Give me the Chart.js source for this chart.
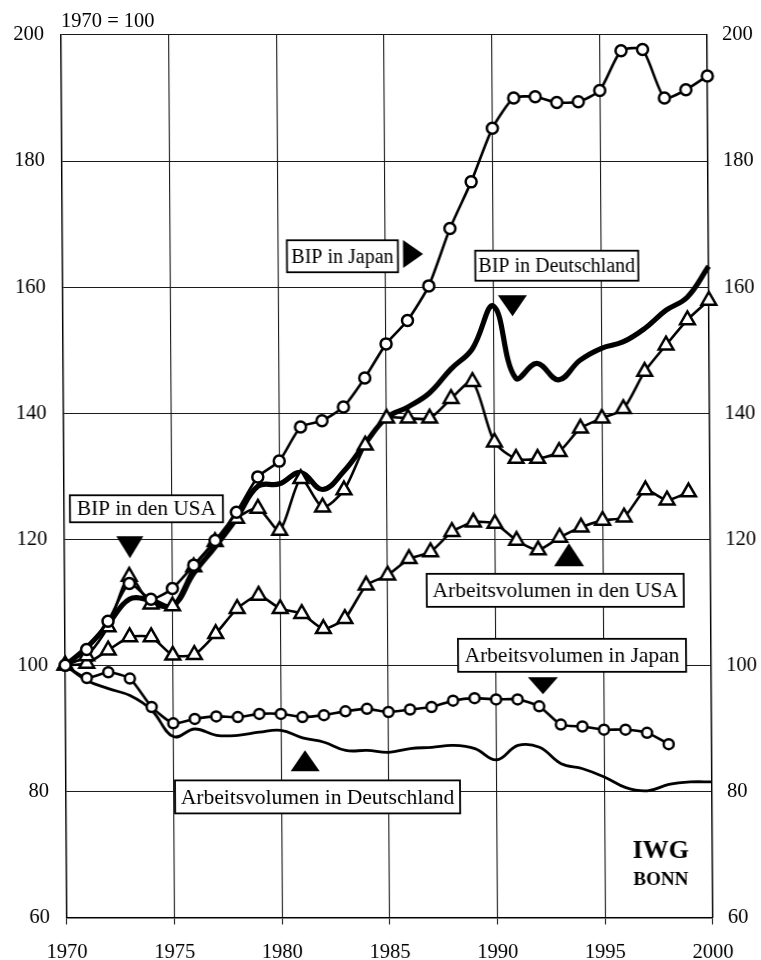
<!DOCTYPE html>
<html><head><meta charset="utf-8">
<script src="https://cdn.jsdelivr.net/npm/chart.js@4.4.0/dist/chart.umd.min.js"></script>
<style>
html,body{margin:0;padding:0;background:#fff;overflow:hidden;}
#wrap{width:761px;height:960px;transform:skewX(0.377deg);transform-origin:50% 50%;}
canvas{display:block;}
</style></head><body>
<div id="wrap"><canvas id="c" width="761" height="960"></canvas></div>
<script>
// ---- data (index 1970 = 100) ----
const years = [1970,1971,1972,1973,1974,1975,1976,1977,1978,1979,1980,1981,1982,1983,1984,1985,1986,1987,1988,1989,1990,1991,1992,1993,1994,1995,1996,1997,1998,1999,2000];
const bipJapan = [100,102.5,107.0,113.0,110.5,112.2,115.9,119.8,124.3,129.9,132.4,137.8,138.8,141.0,145.6,151.0,154.7,160.2,169.3,176.7,185.2,190.0,190.2,189.3,189.4,191.2,197.5,197.7,190.0,191.3,193.5];
const bipDeutschland = [100,102.8,106.5,110.5,110.3,109.4,114.6,118.8,123.3,128.4,128.8,130.6,127.9,130.8,135.2,139.3,141.0,143.2,147.0,150.2,157.0,145.6,147.9,145.3,148.4,150.3,151.3,153.4,156.3,158.4,163.3];
const bipUSA = [100,101.5,106.1,114.1,109.7,109.4,115.6,119.6,123.3,124.9,121.4,129.6,125.1,127.8,134.9,139.2,139.2,139.2,142.3,145.0,135.4,132.8,132.8,133.9,137.6,139.2,140.7,146.6,150.8,154.8,157.9];
const avUSA = [100,100.3,102.4,104.5,104.5,101.6,101.7,105.0,109.0,111.1,109.0,108.2,105.8,107.4,112.7,114.3,116.9,118.0,121.2,122.7,122.5,119.8,118.3,120.3,121.9,123.0,123.5,127.8,126.2,127.5];
const avJapan = [100,98.0,98.9,97.9,93.4,90.8,91.5,91.9,91.8,92.3,92.3,91.8,92.1,92.7,93.1,92.6,93.0,93.4,94.4,94.8,94.6,94.6,93.5,90.6,90.3,89.8,89.8,89.3,87.5];
const avDeutschland = [100,97.6,96.3,95.2,92.9,88.7,89.9,88.9,88.9,89.4,89.7,88.5,87.8,86.5,86.5,86.2,86.8,87.0,87.3,86.8,85.0,87.3,87.0,84.4,83.6,82.3,80.6,80.1,81.1,81.5,81.5];
const xTicks = [1970,1975,1980,1985,1990,1995,2000];
const yTicks = [60,80,100,120,140,160,180,200];
const baseLabel = '1970 = 100';

// ---- annotation layout (data coordinates) ----
const labelBoxes = [
  {text:'BIP in Japan', x:1983.0, y:164.9, w:111, h:32, size:20},
  {text:'BIP in Deutschland', x:1992.95, y:163.4, w:163, h:30, size:20},
  {text:'BIP in den USA', x:1973.82, y:124.84, w:153, h:27, size:21.3},
  {text:'Arbeitsvolumen in den USA', x:1992.78, y:111.9, w:257, h:33, size:21.5},
  {text:'Arbeitsvolumen in Japan', x:1993.54, y:101.59, w:228, h:33, size:21.5},
  {text:'Arbeitsvolumen in Deutschland', x:1981.68, y:79.13, w:285, h:33, size:21.5}
];
const pointers = [
  {dir:'right', x:1986.28, y:165.24, w:20, h:28},
  {dir:'down', x:1990.88, y:157.06, w:29, h:21},
  {dir:'down', x:1973.04, y:118.73, w:27, h:22},
  {dir:'up', x:1993.43, y:117.54, w:30, h:23},
  {dir:'down', x:1992.18, y:96.75, w:30, h:17},
  {dir:'up', x:1981.11, y:84.86, w:29, h:21}
];

const FONT = "'Liberation Serif', 'Times New Roman', serif";
const pts = arr => arr.map((v,i)=>({x:years[i], y:v}));

const annotPlugin = {
  id:'annot',
  afterDatasetsDraw(chart){
    const ctx = chart.ctx, xs = chart.scales.x, ys = chart.scales.y, ca = chart.chartArea;
    ctx.save();
    ctx.fillStyle = '#000';
    pointers.forEach(p=>{
      const cx = xs.getPixelForValue(p.x), cy = ys.getPixelForValue(p.y);
      ctx.beginPath();
      if(p.dir==='down'){ctx.moveTo(cx-p.w/2,cy-p.h/2);ctx.lineTo(cx+p.w/2,cy-p.h/2);ctx.lineTo(cx,cy+p.h/2);}
      else if(p.dir==='up'){ctx.moveTo(cx-p.w/2,cy+p.h/2);ctx.lineTo(cx+p.w/2,cy+p.h/2);ctx.lineTo(cx,cy-p.h/2);}
      else {ctx.moveTo(cx-p.w/2,cy-p.h/2);ctx.lineTo(cx-p.w/2,cy+p.h/2);ctx.lineTo(cx+p.w/2,cy);}
      ctx.closePath(); ctx.fill();
    });
    labelBoxes.forEach(b=>{
      const cx = xs.getPixelForValue(b.x), cy = ys.getPixelForValue(b.y);
      ctx.fillStyle = '#fff';
      ctx.fillRect(cx-b.w/2, cy-b.h/2, b.w, b.h);
      ctx.strokeStyle = '#000'; ctx.lineWidth = 1.8;
      ctx.strokeRect(cx-b.w/2, cy-b.h/2, b.w, b.h);
      ctx.fillStyle = '#000';
      ctx.font = b.size + 'px ' + FONT;
      ctx.textAlign = 'center'; ctx.textBaseline = 'middle';
      ctx.fillText(b.text, cx, cy+1);
    });
    ctx.fillStyle = '#000'; ctx.textAlign = 'center'; ctx.textBaseline = 'alphabetic';
    ctx.font = 'bold 26px ' + FONT;
    ctx.fillText('IWG', xs.getPixelForValue(1997.6), ys.getPixelForValue(69.4));
    ctx.font = 'bold 19px ' + FONT;
    ctx.fillText('BONN', xs.getPixelForValue(1997.6), ys.getPixelForValue(65.2));
    ctx.textAlign = 'left';
    ctx.font = '20.5px ' + FONT;
    ctx.fillText(baseLabel, ca.left, ca.top - 8);
    ctx.restore();
  }
};

const lineBase = {borderColor:'#000', backgroundColor:'#fff', fill:false, clip:false};
new Chart(document.getElementById('c'), {
  type:'line',
  data:{datasets:[
    Object.assign({label:'BIP in Japan', data:pts(bipJapan), borderWidth:2.6, tension:0.2, pointStyle:'circle', pointRadius:5.5, pointBorderWidth:2.5, pointBackgroundColor:'#fff', pointBorderColor:'#000'}, lineBase),
    Object.assign({label:'BIP in den USA', data:pts(bipUSA), borderWidth:2.6, tension:0.25, pointStyle:'triangle', pointRadius:8.5, pointBorderWidth:2.5, pointBackgroundColor:'#fff', pointBorderColor:'#000'}, lineBase),
    Object.assign({label:'Arbeitsvolumen in den USA', data:pts(avUSA), borderWidth:2.6, tension:0.2, pointStyle:'triangle', pointRadius:8.5, pointBorderWidth:2.5, pointBackgroundColor:'#fff', pointBorderColor:'#000'}, lineBase),
    Object.assign({label:'Arbeitsvolumen in Japan', data:pts(avJapan), borderWidth:2.6, tension:0.2, pointStyle:'circle', pointRadius:5, pointBorderWidth:2.5, pointBackgroundColor:'#fff', pointBorderColor:'#000'}, lineBase),
    Object.assign({label:'BIP in Deutschland', data:pts(bipDeutschland), borderWidth:5.2, tension:0.4, pointRadius:0}, lineBase),
    Object.assign({label:'Arbeitsvolumen in Deutschland', data:pts(avDeutschland), borderWidth:2.8, tension:0.4, pointRadius:0}, lineBase)
  ]},
  options:{
    responsive:false, animation:false, devicePixelRatio:1,
    layout:{padding:{top:35,left:0,right:0,bottom:0}},
    plugins:{legend:{display:false}, tooltip:{enabled:false}},
    scales:{
      x:{type:'linear', position:'bottom', min:1970, max:2000,
        afterBuildTicks:s=>{s.ticks = xTicks.map(v=>({value:v}));},
        grid:{color:'#1a1a1a', lineWidth:1.1, drawTicks:true, tickLength:7, tickColor:'#1a1a1a'},
        border:{color:'#000', width:1.4},
        ticks:{font:{family:FONT, size:20.5}, color:'#000', padding:16, maxRotation:0, autoSkip:false, callback:v=>String(v)},
        afterFit:s=>{s.height = 42.5;}},
      y:{position:'left', min:60, max:200,
        afterBuildTicks:s=>{s.ticks = yTicks.map(v=>({value:v}));},
        grid:{color:'#1a1a1a', lineWidth:1.1, drawTicks:false},
        border:{color:'#000', width:1.4},
        ticks:{font:{family:FONT, size:20.5}, color:'#000', padding:17, autoSkip:false},
        afterFit:s=>{s.width = 64;}},
      y2:{position:'right', min:60, max:200,
        afterBuildTicks:s=>{s.ticks = yTicks.map(v=>({value:v}));},
        grid:{drawOnChartArea:false, drawTicks:false},
        border:{color:'#000', width:1.4},
        ticks:{font:{family:FONT, size:20.5}, color:'#000', padding:15, autoSkip:false},
        afterFit:s=>{s.width = 51;}}
    }
  },
  plugins:[annotPlugin]
});
</script>
</body></html>
